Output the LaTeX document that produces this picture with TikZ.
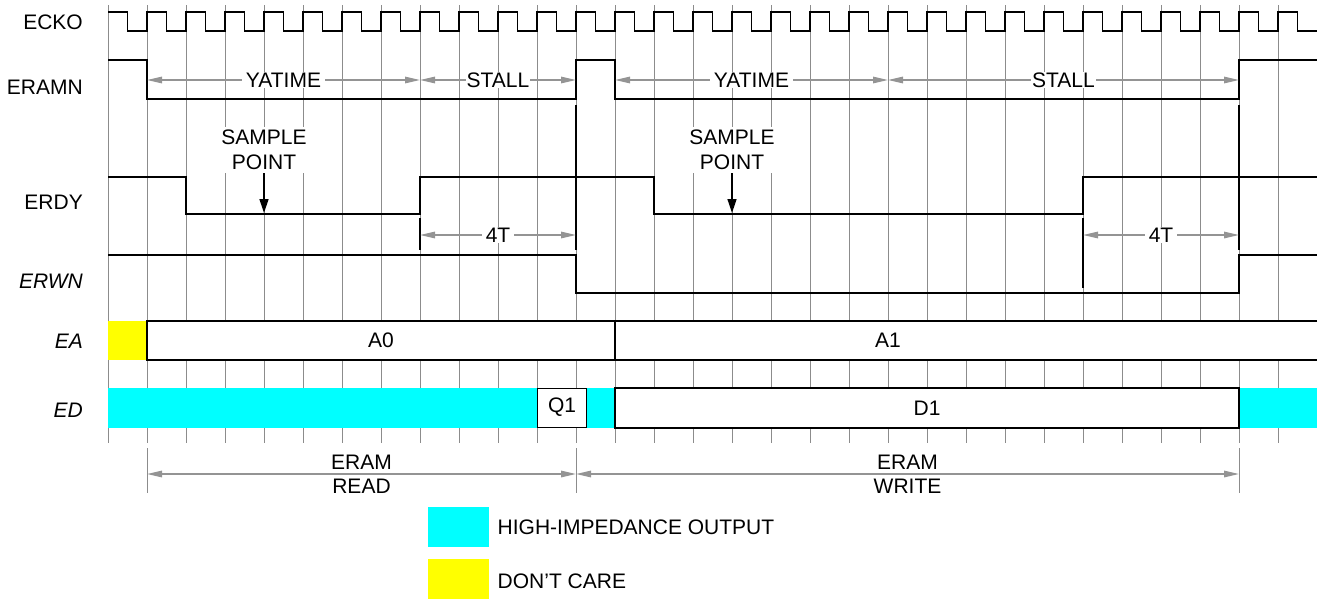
\documentclass[tikz,border=0pt]{standalone}
\usepackage{fontspec}
\setmainfont{Liberation Sans}
\usetikzlibrary{arrows.meta,positioning}
\definecolor{hiz}{RGB}{0,255,255}
\definecolor{dontcare}{RGB}{255,255,0}

\begin{document}
\begin{tikzpicture}[
    x=1pt, y=-1pt,
    font=\fontsize{21}{25}\selectfont,
    grid/.style={draw=black!45, line width=1pt},
    clk/.style={line width=1.2pt},
    sig/.style={line width=2.2pt},
    sname/.style={anchor=east, inner sep=0pt},
    dim/.style={draw=black!42, line width=1.5pt, >={Triangle[length=15pt,width=6.5pt]}, <->},
    dimlbl/.style={fill=white, inner xsep=4pt, inner ysep=1pt},
    smp/.style={line width=1.3pt, -{Triangle[length=14pt,width=9pt]}},
    bus/.style={draw, line width=2pt, fill=white, inner sep=0pt},
    key/.style={minimum width=61pt, minimum height=40pt, inner sep=0pt}
]
\useasboundingbox (0,0) rectangle (1324,598);

% clock grid
\foreach \k in {0,...,30}
    \draw[grid] (108+39*\k,5) -- (108+39*\k,443);

% bus rows
\fill[dontcare] (108,321) rectangle (147,360);
\node[bus, minimum width=468pt, minimum height=39pt] (a0) at (381,340.5) {A0};
\fill[white] (615,321) rectangle (1317,360);
\draw[sig] (1317,321) -- (615,321) -- (615,360) -- (1317,360);
\node (a1) at (888,340.5) {A1};

\fill[hiz] (108,388) rectangle (615,428);
\fill[hiz] (1239,388) rectangle (1317,428);
\node[bus, minimum width=624pt, minimum height=40pt] (d1) at (927,408) {D1};
\node[draw, fill=white, line width=1pt, minimum width=49pt, minimum height=39pt, inner sep=0pt] (q1) at (562,407.5) {Q1};

% waveforms
\draw[clk] (108,12) foreach \k in {1,...,30} { -- ++(19.5,0) -- ++(0,19) -- ++(19.5,0) -- ++(0,-19) }
    -- ++(19.5,0) -- ++(0,19) -- ++(19.5,0);
\draw[sig] (108,60) -- (147,60) -- (147,99) -- (576,99) -- (576,60) -- (615,60) -- (615,99)
    -- (1239,99) -- (1239,60) -- (1317,60);
\draw[sig] (108,177) -- (186,177) -- (186,214) -- (420,214) -- (420,177) -- (654,177) -- (654,214)
    -- (1083,214) -- (1083,177) -- (1317,177);
\draw[sig] (108,255) -- (576,255) -- (576,293) -- (1239,293) -- (1239,255) -- (1317,255);

% reference lines
\draw[sig] (576,105) -- (576,250);
\draw[sig] (1239,105) -- (1239,250);
\draw[sig] (420,218) -- (420,250);
\draw[sig] (1083,218) -- (1083,288);

% signal names
\node[sname] (ecko) at (83,22) {ECKO};
\node[sname] (eramn) at (83,87) {ERAMN};
\node[sname] (erdy) at (83,202) {ERDY};
\node[sname] (erwn) at (83,281) {\itshape ERWN};
\node[sname] (ea) at (83,341.5) {\itshape EA};
\node[sname] (ed) at (83,410) {\itshape ED};

% timing intervals
\coordinate (ya0) at (147,80);
\coordinate (ya1) at (420,80);
\coordinate (st0) at (576,80);
\coordinate (ya2) at (615,80);
\coordinate (ya3) at (888,80);
\coordinate (st1) at (1239,80);
\draw[dim] (ya0) -- (ya1) node[midway, dimlbl] (yatime1) {YATIME};
\draw[dim] (ya1) -- (st0) node[midway, dimlbl, inner xsep=1pt] (stall1) {STALL};
\draw[dim] (ya2) -- (ya3) node[midway, dimlbl] (yatime2) {YATIME};
\draw[dim] (ya3) -- (st1) node[midway, dimlbl, inner xsep=1pt] (stall2) {STALL};

\coordinate (ft0) at (420,235);
\coordinate (ft1) at (576,235);
\coordinate (ft2) at (1083,235);
\coordinate (ft3) at (1239,235);
\draw[dim] (ft0) -- (ft1) node[midway, dimlbl] (fourt1) {4T};
\draw[dim] (ft2) -- (ft3) node[midway, dimlbl] (fourt2) {4T};

% sample points
\node[align=center, fill=white, inner xsep=4pt, inner ysep=3pt] (samp1) at (264,150) {SAMPLE\\POINT};
\node[align=center, fill=white, inner xsep=4pt, inner ysep=3pt] (samp2) at (732,150) {SAMPLE\\POINT};
\coordinate (sp1) at (264,213);
\coordinate (sp2) at (732,213);
\draw[smp] (samp1) -- (sp1);
\draw[smp] (samp2) -- (sp2);

% cycle spans
\draw[grid] (147,448) -- (147,493);
\draw[grid] (576,448) -- (576,493);
\draw[grid] (1239,448) -- (1239,493);
\coordinate (rd0) at (147,474);
\coordinate (rd1) at (576,474);
\coordinate (wr1) at (1239,474);
\draw[dim] (rd0) -- (rd1);
\draw[dim] (rd1) -- (wr1);
\node (eramr) at (361.5,462) {ERAM};
\node (read) at (361.5,486) {READ};
\node (eramw) at (907.5,462) {ERAM};
\node (write) at (907.5,486) {WRITE};

% legend
\node[key, fill=hiz] (khiz) at (458.5,527) {};
\node[right=5pt of khiz] (thiz) {HIGH-IMPEDANCE OUTPUT};
\node[key, fill=dontcare, below=12pt of khiz] (kdc) {};
\node[right=5pt of kdc, yshift=-2pt] (tdc) {DON’T CARE};
\end{tikzpicture}
\end{document}
